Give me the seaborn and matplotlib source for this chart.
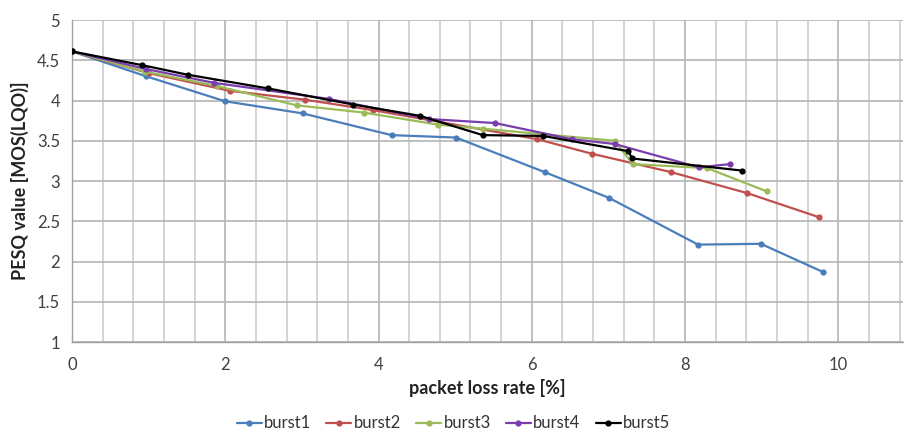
import numpy as np
import pandas as pd
import seaborn as sns
import matplotlib.pyplot as plt
from matplotlib.ticker import MultipleLocator

# --- DATA ---
burst1_x = [0, 0.97, 2.0, 3.01, 4.17, 5.01, 6.17, 7.01, 8.17, 8.99, 9.80]
burst1_y = [4.61, 4.30, 3.99, 3.84, 3.57, 3.54, 3.11, 2.79, 2.21, 2.22, 1.87]

burst2_x = [0, 1.0, 2.06, 3.04, 3.93, 6.07, 6.78, 7.82, 8.81, 9.75]
burst2_y = [4.61, 4.34, 4.12, 4.01, 3.88, 3.52, 3.34, 3.11, 2.85, 2.55]

burst3_x = [0, 0.95, 1.89, 2.93, 3.81, 4.78, 5.36, 7.08, 7.32, 8.29, 9.07]
burst3_y = [4.61, 4.36, 4.18, 3.94, 3.85, 3.70, 3.65, 3.50, 3.21, 3.16, 2.87]

burst4_x = [0, 0.97, 1.85, 3.35, 4.66, 5.52, 6.52, 7.08, 8.18, 8.59]
burst4_y = [4.61, 4.39, 4.22, 4.02, 3.77, 3.72, 3.52, 3.46, 3.17, 3.21]

burst5_x = [0, 0.91, 1.51, 2.56, 3.67, 4.54, 5.36, 6.15, 7.26, 7.31, 8.74]
burst5_y = [4.61, 4.44, 4.32, 4.15, 3.95, 3.81, 3.57, 3.56, 3.37, 3.28, 3.13]

series_names = ["burst1", "burst2", "burst3", "burst4", "burst5"]
colors = ["#4A7EBB", "#C0504D", "#9BBB59", "#7A3DAD", "#000000"]

xs = [burst1_x, burst2_x, burst3_x, burst4_x, burst5_x]
ys = [burst1_y, burst2_y, burst3_y, burst4_y, burst5_y]

frames = []
for name, x, y in zip(series_names, xs, ys):
    frames.append(pd.DataFrame({"loss": x, "pesq": y, "series": name}))
df = pd.concat(frames, ignore_index=True)

# --- PLOTTING ---
sns.set_style("white")
plt.rcParams["font.family"] = ["Lato", "DejaVu Sans"]

fig = plt.figure(figsize=(9.07, 4.32), dpi=100)
ax = fig.add_axes([0.0794, 0.2083, 0.9166, 0.7454])

sns.lineplot(
    data=df, x="loss", y="pesq", hue="series", hue_order=series_names,
    palette=colors, sort=False, estimator=None, units="series",
    marker="o", markersize=4.5, markeredgewidth=0, linewidth=1.6,
    ax=ax, legend=True, zorder=3,
)

ax.set_xlim(0, 10.85)
ax.set_ylim(1, 5)
ax.xaxis.set_major_locator(MultipleLocator(2))
ax.xaxis.set_minor_locator(MultipleLocator(0.4))
ax.yaxis.set_major_locator(MultipleLocator(0.5))
ax.yaxis.set_major_formatter(plt.FuncFormatter(lambda v, p: f"{v:g}"))

ax.grid(which="major", color="#b4b4b4", linewidth=1.2, zorder=0)
ax.grid(which="minor", axis="x", color="#cccccc", linewidth=1.2, zorder=0)
ax.set_axisbelow(True)

for side in ["top", "right"]:
    ax.spines[side].set_visible(False)
for side in ["left", "bottom"]:
    ax.spines[side].set_color("#a0a0a0")
    ax.spines[side].set_linewidth(1.0)

ax.tick_params(axis="both", which="major", labelsize=12, colors="#a0a0a0",
               labelcolor="#404040", length=5, width=1, direction="out")
ax.tick_params(axis="x", which="minor", length=0)
ax.tick_params(axis="x", pad=6)

ax.set_xlabel("packet loss rate [%]", fontsize=13, weight="bold",
              color="#222222", labelpad=4)
ax.set_ylabel("PESQ value [MOS(LQO)]", fontsize=13, weight="bold",
              color="#222222", labelpad=6)

handles, labels = ax.get_legend_handles_labels()
ax.get_legend().remove()
fig.legend(handles, labels, loc="center", bbox_to_anchor=(0.5, 0.02),
           ncol=5, frameon=False, fontsize=12, handlelength=1.5,
           columnspacing=0.9, handletextpad=0.15, labelcolor="#333333")

plt.savefig("out.png", dpi=100)
